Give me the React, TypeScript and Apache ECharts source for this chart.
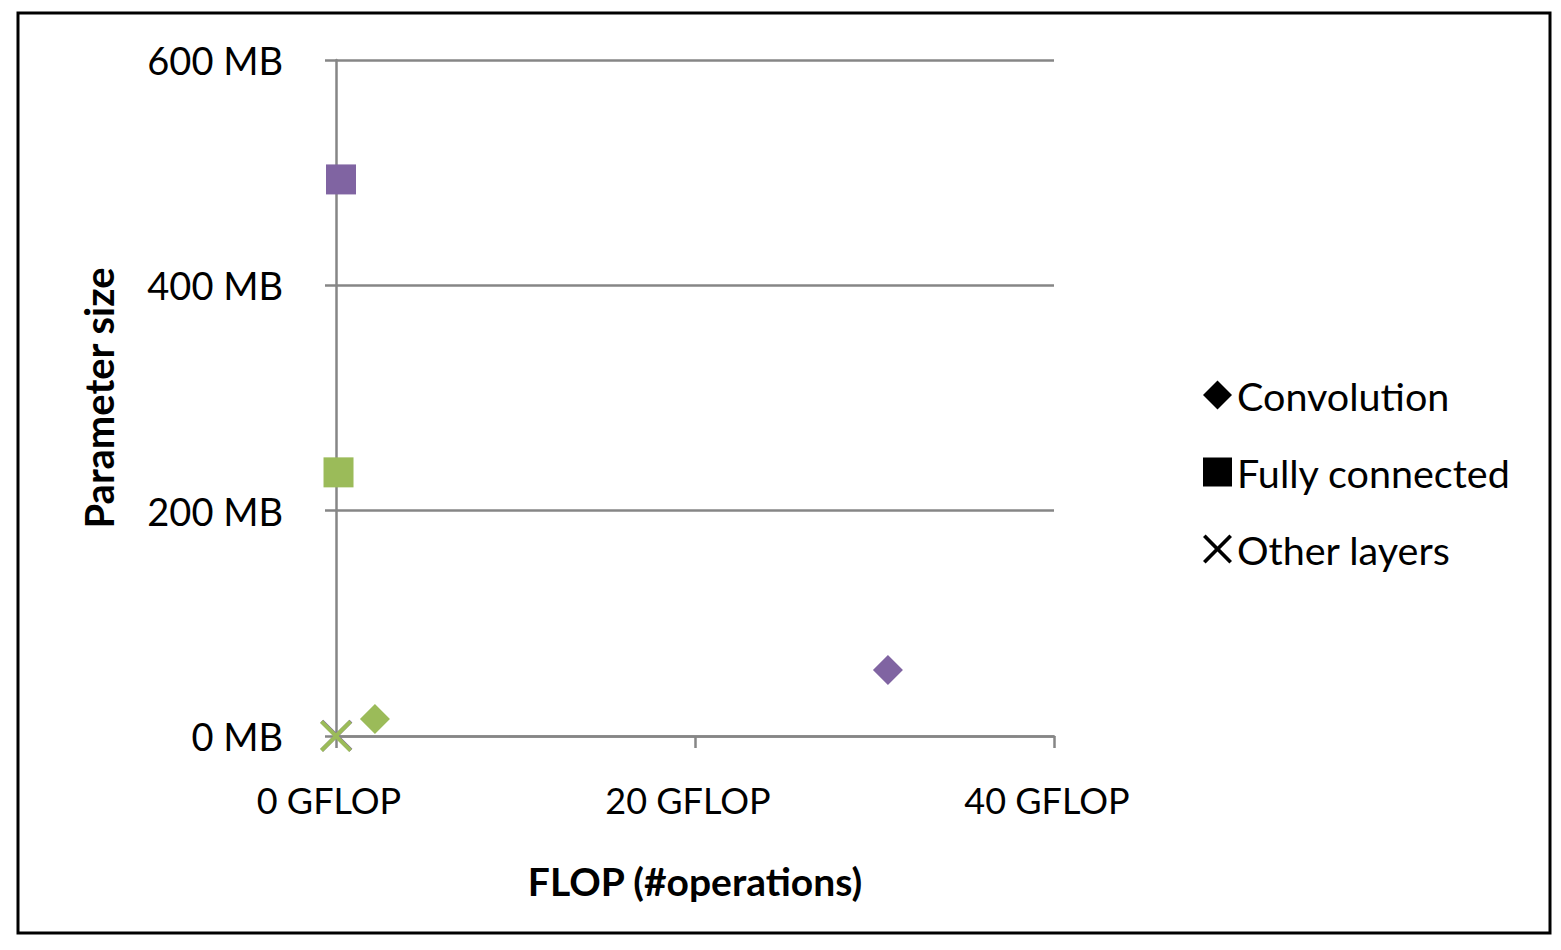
import React, { useEffect, useRef } from "react";
import * as echarts from "echarts";

const seriesNames = ["Convolution", "Fully connected", "Other layers"];
const networkColors = ["#8064A2", "#9BBB59"]; // purple network, green network
const convFlop = [30.75, 2.17];
const convParams = [58.6, 15.1];
const fcFlop = [0.28, 0.14];
const fcParams = [494, 234];
const otherFlop = [0.02, 0.0];
const otherParams = [0.3, 0.0];
const xTicks = [0, 20, 40];
const yTicks = [0, 200, 400, 600];

const X_PATH =
  "path://M0,9 L9,0 L50,41 L91,0 L100,9 L59,50 L100,91 L91,100 L50,59 L9,100 L0,91 L41,50 Z";

const FONT = "Lato";
const GRAY = "#868686";

function pts(xs: number[], ys: number[]) {
  return xs.map((x, i) => ({
    value: [x, ys[i]],
    itemStyle: { color: networkColors[i], opacity: 1 },
  }));
}

export default function App() {
  const ref = useRef<HTMLDivElement>(null);
  useEffect(() => {
    if (!ref.current) return;
    const chart = echarts.init(ref.current, undefined, { renderer: "svg" });
    chart.setOption({
      animation: false,
      backgroundColor: "#ffffff",
      textStyle: { fontFamily: FONT },
      graphic: [
        {
          type: "rect",
          shape: { x: 18, y: 13, width: 1532, height: 920 },
          style: { fill: "none", stroke: "#000", lineWidth: 3 },
          silent: true,
        },
      ],
      grid: { left: 336, right: 507, top: 60, bottom: 214, containLabel: false },
      legend: {
        orient: "vertical",
        left: 1198,
        top: 370,
        itemWidth: 29,
        itemHeight: 29,
        itemGap: 37,
        textStyle: { fontSize: 39.5, color: "#000", fontFamily: FONT },
        itemStyle: { opacity: 1 },
        data: seriesNames,
      },
      xAxis: {
        type: "value",
        min: xTicks[0],
        max: xTicks[xTicks.length - 1],
        interval: 20,
        name: "FLOP (#operations)",
        nameLocation: "middle",
        nameGap: 125,
        nameTextStyle: { fontSize: 39, fontWeight: "bold", color: "#000", fontFamily: FONT },
        axisLine: { show: true, lineStyle: { color: GRAY, width: 2.5 } },
        axisTick: { show: true, length: 12, lineStyle: { color: GRAY, width: 2.5 } },
        axisLabel: {
          formatter: (v: number) => `${v} GFLOP`,
          fontSize: 36,
          color: "#000",
          margin: 46,
          padding: [0, 14, 0, 0],
          fontFamily: FONT,
        },
        splitLine: { show: false },
      },
      yAxis: {
        type: "value",
        min: yTicks[0],
        max: yTicks[yTicks.length - 1],
        interval: 200,
        name: "Parameter size",
        nameLocation: "middle",
        nameGap: 217,
        nameRotate: 90,
        nameTextStyle: { fontSize: 40, fontWeight: "bold", color: "#000", fontFamily: FONT },
        axisLine: { show: true, lineStyle: { color: GRAY, width: 2.5 } },
        axisTick: { show: true, length: 11, lineStyle: { color: GRAY, width: 2.5 } },
        axisLabel: {
          formatter: (v: number) => `${v} MB`,
          fontSize: 38,
          color: "#000",
          margin: 53,
          fontFamily: FONT,
        },
        splitLine: { show: true, lineStyle: { color: GRAY, width: 2.5 } },
      },
      series: [
        {
          name: seriesNames[0],
          type: "scatter",
          symbol: "diamond",
          symbolSize: 30,
          clip: false,
          itemStyle: { color: "#000", opacity: 1 },
          data: pts(convFlop, convParams),
        },
        {
          name: seriesNames[1],
          type: "scatter",
          symbol: "rect",
          symbolSize: 30,
          clip: false,
          itemStyle: { color: "#000", opacity: 1 },
          data: pts(fcFlop, fcParams),
        },
        {
          name: seriesNames[2],
          type: "scatter",
          symbol: X_PATH,
          symbolSize: 32,
          clip: false,
          itemStyle: { color: "#000", opacity: 1 },
          data: pts(otherFlop, otherParams),
        },
      ],
    });
    return () => chart.dispose();
  }, []);
  return (
    <div
      ref={ref}
      style={{ position: "fixed", left: 0, top: 0, width: 1561, height: 950, background: "#fff" }}
    />
  );
}
